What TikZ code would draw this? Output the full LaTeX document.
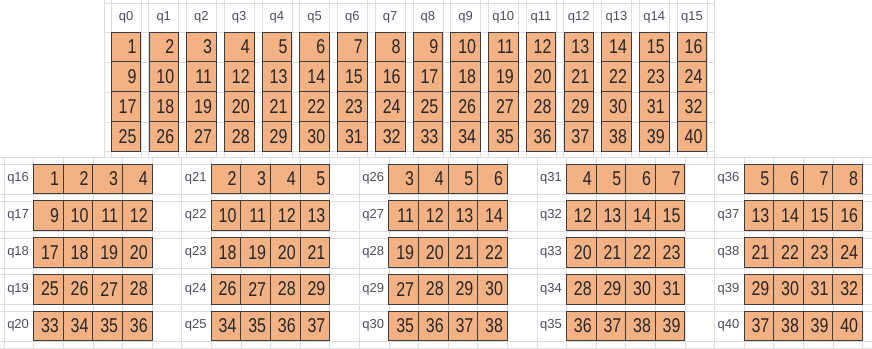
\documentclass[tikz,border=0pt]{standalone}
\usepackage{fontspec}
\setmainfont{Liberation Sans}
\newfontfamily\cellfont[FakeStretch=0.8]{Liberation Sans}

\definecolor{cellfill}{HTML}{F4B183}
\definecolor{cellline}{HTML}{3C3C3C}
\definecolor{gridgray}{HTML}{DDDDDD}
\definecolor{labgray}{HTML}{4A4D5C}
\definecolor{numgray}{HTML}{262626}

\tikzset{
  cellbox/.style={draw=cellline, line width=0.8pt, fill=cellfill,
    minimum width=29.6pt, minimum height=29.7pt, text width=21pt,
    align=right, inner xsep=4pt, inner ysep=0pt,
    font=\cellfont\fontsize{20}{20}\selectfont, text=numgray},
  qlabel/.style={font=\fontsize{13}{13}\selectfont, text=labgray, inner sep=0pt},
  gridline/.style={draw=gridgray, line width=0.6pt}
}

\begin{document}
\begin{tikzpicture}[x=1pt, y=-1pt]
  \useasboundingbox (0,0) rectangle (872,348);
  % Grid, top part
  \foreach \r in {3,32,62,92,122,151}
    \draw[gridline] (104,\r) -- (714,\r);
  \draw[gridline] (104,0) -- (104,157);
  \draw[gridline] (714,0) -- (714,157);
  \foreach \i in {0,...,15} {
    \draw[gridline] (111+37.73*\i,0) -- (111+37.73*\i,157);
    \draw[gridline] (141+37.73*\i,0) -- (141+37.73*\i,157);
  }
  % Grid, bottom part
  \foreach \r in {157,164,194,201,231,238,268,274,304,311,341,348}
    \draw[gridline] (0,\r) -- (872,\r);
  \foreach \k in {0,...,29}
    \draw[gridline] (4+29.6*\k,157) -- (4+29.6*\k,348);
  % Columns q0 .. q15
  \foreach \i in {0,...,15} {
    \pgfmathsetmacro\cx{126+37.73*\i}
    \node[qlabel] (lq\i) at (\cx,17) {q\i};
    \foreach \r in {0,...,3} {
      \pgfmathtruncatemacro\v{\i+1+8*\r}
      \node[cellbox] (t\i-\r) at (\cx,46.9+29.75*\r) {\v};
    }
  }
  % Rows q16 .. q40
  \foreach \g in {0,...,4} {
    \foreach \r in {0,...,4} {
      \pgfmathsetmacro\gx{33.6+177.6*\g}
      \pgfmathsetmacro\ry{178.8+36.75*\r}
      \pgfmathtruncatemacro\q{16+5*\g+\r}
      \node[qlabel] (lq\q) at (\gx-15.5,\ry) {q\q};
      \foreach \c in {0,...,3} {
        \pgfmathtruncatemacro\v{\g+1+8*\r+\c}
        \node[cellbox] (b\q-\c) at (\gx+14.8+29.6*\c,\ry) {\v};
      }
    }
  }
\end{tikzpicture}
\end{document}
